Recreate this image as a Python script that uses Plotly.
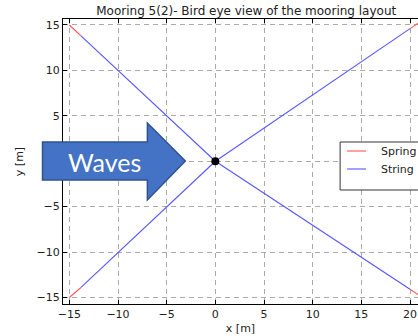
import plotly.graph_objects as go

# ---- data ----
anchor_x = [-15.0, -15.0, 21.4, 21.4]
anchor_y = [15.0, -15.0, 15.6, -15.1]
junction_x = [-13.8, -13.8, 20.0, 20.0]
junction_y = [13.8, -13.9, 14.6, -14.1]
fairlead_x = [0.0]
fairlead_y = [0.0]
x_ticks = [-15, -10, -5, 0, 5, 10, 15, 20]
y_ticks = [-15, -10, -5, 0, 5, 10, 15]
series_names = ["Spring", "String"]
series_colors = ["#ff5555", "#5555ff"]

W, H = 418, 336
L, R, T, B = 62.5, 0, 19, 32

fig = go.Figure()

# springs (anchor -> junction)
sx, sy = [], []
for ax_, ay_, jx, jy in zip(anchor_x, anchor_y, junction_x, junction_y):
    sx += [ax_, jx, None]
    sy += [ay_, jy, None]
fig.add_trace(go.Scatter(x=sx, y=sy, mode="lines", name=series_names[0], showlegend=False,
                         line=dict(color=series_colors[0], width=1.1)))

# strings (junction -> fairlead)
tx, ty = [], []
for jx, jy in zip(junction_x, junction_y):
    tx += [jx, fairlead_x[0], None]
    ty += [jy, fairlead_y[0], None]
fig.add_trace(go.Scatter(x=tx, y=ty, mode="lines", name=series_names[1], showlegend=False,
                         line=dict(color=series_colors[1], width=1.1)))

fig.add_trace(go.Scatter(x=fairlead_x, y=fairlead_y, mode="markers", showlegend=False,
                         marker=dict(color="black", size=8)))

pw = W - L - R
ph = H - T - B
def px(x):
    return (x - L) / pw
def py(y):
    return (H - B - y) / ph

# ---- legend box (cropped at the right edge like the reference) ----
fig.add_shape(type="rect", xref="paper", yref="paper",
              x0=px(340), x1=px(440), y0=py(190), y1=py(142),
              fillcolor="white", line=dict(color="#333333", width=1), layer="above")
for i, (nm, col) in enumerate(zip(series_names, series_colors)):
    yy = 151 + 18 * i
    fig.add_shape(type="line", xref="paper", yref="paper",
                  x0=px(347), x1=px(366), y0=py(yy), y1=py(yy),
                  line=dict(color=col, width=1.1), layer="above")
    fig.add_annotation(text=nm, x=px(379), y=py(yy), xref="paper", yref="paper",
                       xanchor="left", yanchor="middle", showarrow=False,
                       font=dict(family="DejaVu Sans", size=11, color="#222222"))

# ---- "Waves" block arrow (decoration) ----
arrow_px = [(42, 142), (147, 142), (147, 123), (185, 161), (147, 200), (147, 180), (42, 180)]
path = "M " + " L ".join(f"{px(a):.4f},{py(b):.4f}" for a, b in arrow_px) + " Z"
fig.add_shape(type="path", path=path, xref="paper", yref="paper",
              fillcolor="#4472C4", line=dict(color="#2F528F", width=1.5), layer="above")
fig.add_annotation(text="Waves", x=px(104), y=py(162), xref="paper", yref="paper",
                   xanchor="center", yanchor="middle",
                   showarrow=False, font=dict(family="Lato", size=25, color="white"))

axis_common = dict(
    showline=True, linecolor="black", linewidth=1,
    ticks="inside", ticklen=4, tickcolor="black",
    showgrid=True, gridcolor="#aaaaaa", griddash="5px,4px", gridwidth=1,
    zeroline=False, tickfont=dict(size=11, color="#222222"),
)

fig.update_xaxes(range=[-15.65, 20.82], tickvals=x_ticks, mirror="ticks",
                 title=dict(text="x [m]", font=dict(size=11, color="#222222"), standoff=4),
                 **axis_common)
fig.update_yaxes(range=[-15.72, 15.66], tickvals=y_ticks, mirror=False,
                 title=dict(text="y [m]", font=dict(size=11, color="#222222"), standoff=10),
                 **axis_common)

fig.update_layout(
    width=W, height=H,
    margin=dict(l=L, r=R, t=T, b=B, pad=0),
    paper_bgcolor="white", plot_bgcolor="white",
    font=dict(family="DejaVu Sans", color="#222222"),
    title=dict(text="Mooring 5(2)- Bird eye view of the mooring layout",
               x=px(246), xref="paper", xanchor="center",
               y=1 - 11 / H, yref="container", yanchor="middle",
               font=dict(size=12, color="#222222")),
    showlegend=False,
)

fig.write_html("out.html")
